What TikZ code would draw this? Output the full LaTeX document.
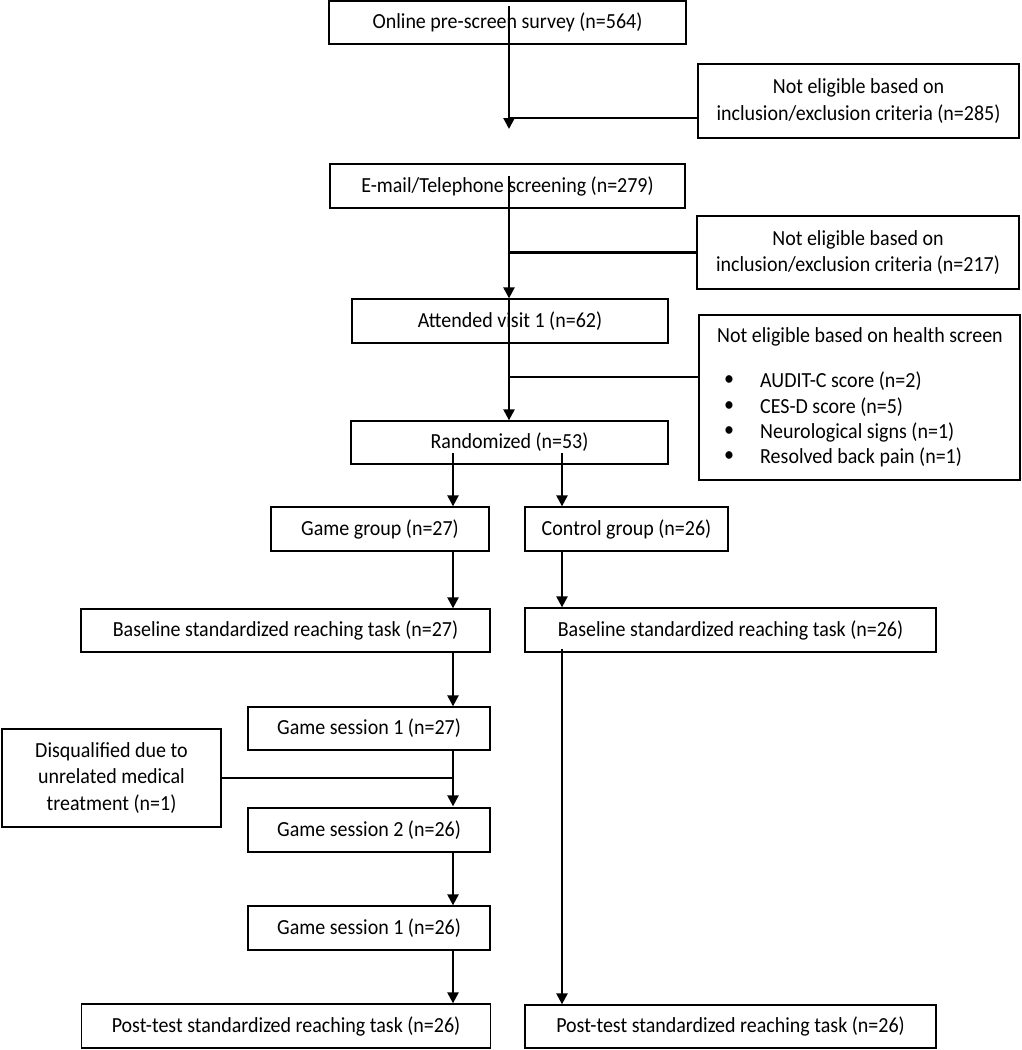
\documentclass[tikz,border=0pt]{standalone}
\usepackage{fontspec}
\setmainfont{Carlito}[FakeStretch=0.93]
\usetikzlibrary{arrows.meta,calc}
\begin{document}
\begin{tikzpicture}[x=1pt,y=-1pt,
  box/.style={draw=black,line width=1.3pt,inner sep=0pt,font=\fontsize{21.5}{26.5}\selectfont,align=center},
  txt/.style={inner sep=0pt,font=\fontsize{21.5}{26.5}\selectfont},
  conn/.style={line width=2.3pt,draw=black},
  arr/.style={conn,-{Triangle[width=11pt,length=11pt]}}]
\useasboundingbox (0,0) rectangle (1022,1050);
% boxes
\node[box,minimum width=357pt,minimum height=43pt] (on1) at (507.5,22.5) {Online pre-screen survey (n=564)};
\node[box,minimum width=321pt,minimum height=74pt] (ne1) at (858.5,101) {Not eligible based on\\inclusion/exclusion criteria (n=285)};
\node[box,minimum width=355pt,minimum height=44pt] (em) at (507.5,186) {E-mail/Telephone screening (n=279)};
\node[box,minimum width=322pt,minimum height=73pt] (ne2) at (858,252.5) {Not eligible based on\\inclusion/exclusion criteria (n=217)};
\node[box,minimum width=316pt,minimum height=44pt] (av) at (510,321) {Attended visit 1 (n=62)};
\node[box,minimum width=321pt,minimum height=165pt] (hs) at (859.5,397.5) {};
\node[txt] (hst) at (860,337) {Not eligible based on health screen};
\foreach \y/\t [count=\i] in {381/AUDIT-C score (n=2),407/CES-D score (n=5),432/Neurological signs (n=1),457/Resolved back pain (n=1)}{
  \node[txt] (hb\i) at (729,\y) {•};
  \node[txt,anchor=west] (hl\i) at (760,\y) {\t};
}
\node[box,minimum width=317pt,minimum height=43pt] (rz) at (509.5,442.5) {Randomized (n=53)};
\node[box,minimum width=218pt,minimum height=44pt] (gg) at (380,529) {Game group (n=27)};
\node[box,minimum width=203pt,minimum height=44pt] (cg) at (626.5,529) {Control group (n=26)};
\node[box,minimum width=409pt,minimum height=43pt] (bl) at (285.5,630.5) {Baseline standardized reaching task (n=27)};
\node[box,minimum width=411pt,minimum height=44pt] (br) at (730.5,630) {Baseline standardized reaching task (n=26)};
\node[box,minimum width=242pt,minimum height=43pt] (gs1) at (369,728.5) {Game session 1 (n=27)};
\node[box,minimum width=219pt,minimum height=98pt] (dq) at (111.5,778) {Disqualified due to\\unrelated medical\\treatment (n=1)};
\node[box,minimum width=242pt,minimum height=44pt] (gs2) at (369,830) {Game session 2 (n=26)};
\node[box,minimum width=242pt,minimum height=44pt] (gs3) at (369,928) {Game session 1 (n=26)};
\node[box,minimum width=409pt,minimum height=44pt] (pl) at (286,1026) {Post-test standardized reaching task (n=26)};
\node[box,minimum width=411pt,minimum height=43pt] (pr) at (730.5,1026.5) {Post-test standardized reaching task (n=26)};
% connector coordinates
\coordinate (t1) at (509,129);
\coordinate (h1) at (509,118);
\coordinate (t2) at (509,176);
\coordinate (h3) at (509,377);
\coordinate (a1) at (453,453);
\coordinate (a2) at (562,453);
% connectors
\draw[arr] ($(on1.north -| t1)+(0,6)$) -- (t1);
\draw[conn] (h1 -| ne1.west) -- (h1);
\draw[arr] (t2) -- (t2 |- av.north);
\draw[conn] (ne2.west) -- (ne2.west -| t2);
\draw[arr] (t2 |- av.north) -- (t2 |- rz.north);
\draw[conn] (h3 -| hs.west) -- (h3);
\draw[arr] (a1) -- (a1 |- gg.north);
\draw[arr] (a2) -- (a2 |- cg.north);
\draw[arr] (a1 |- gg.south) -- (a1 |- bl.north);
\draw[arr] (a2 |- cg.south) -- (a2 |- br.north);
\draw[arr] (a1 |- bl.south) -- (a1 |- gs1.north);
\draw[arr] (a1 |- gs1.south) -- ($(a1 |- gs2.north)+(0,-1)$);
\draw[conn] (dq.east) -- (dq.east -| a1);
\draw[arr] (a1 |- gs2.south) -- (a1 |- gs3.north);
\draw[arr] (a1 |- gs3.south) -- (a1 |- pl.north);
\draw[arr] ($(a2 |- br.south)+(0,-4)$) -- (a2 |- pr.north);
\end{tikzpicture}
\end{document}
